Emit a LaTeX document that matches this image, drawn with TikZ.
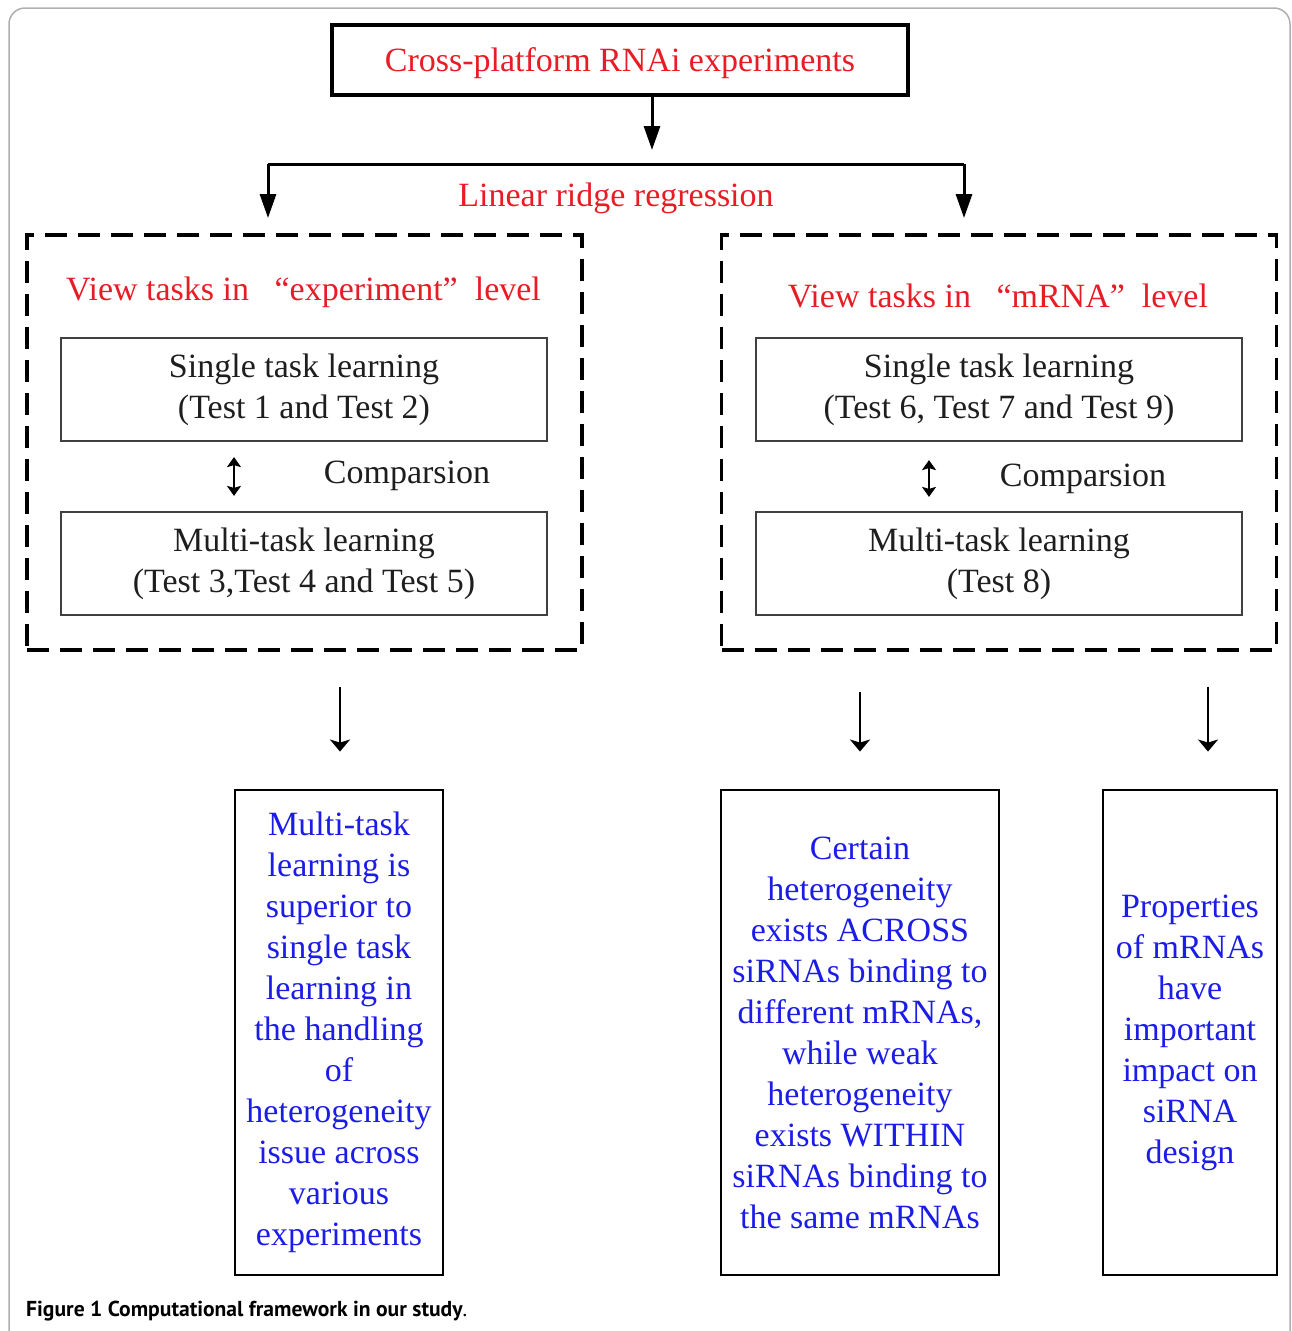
\documentclass[tikz,border=0pt]{standalone}
\usepackage{fontspec}
\setmainfont{Liberation Serif}
\newfontfamily\capfont{PT Sans}
\usetikzlibrary{arrows.meta}
\definecolor{rred}{RGB}{232,28,36}
\definecolor{bblue}{RGB}{28,28,232}
\definecolor{ttxt}{RGB}{30,30,30}
\definecolor{framegray}{RGB}{175,175,175}
\tikzset{
  big/.style={font=\fontsize{34}{41}\selectfont},
  topbox/.style={draw=black, line width=3.1pt, minimum width=576pt, minimum height=70pt, inner sep=0pt, text=rred, big, text height=30pt, text depth=7pt},
  dashbox/.style={draw=black, line width=3.1pt, dash pattern=on 22pt off 11pt, minimum width=555pt, minimum height=415pt, inner sep=0pt},
  innerbox/.style={draw=black!75, line width=2.2pt, minimum width=486pt, minimum height=103pt, inner sep=0pt, text=ttxt, align=center, big},
  resbox/.style={draw=black, line width=2.9pt, minimum height=485pt, inner sep=0pt, text=bblue, align=center, big},
  redlabel/.style={text=rred, big, inner sep=0pt},
  cmplabel/.style={text=ttxt, big, inner sep=0pt},
  toparr/.style={line width=3pt, -{Triangle[width=16pt,length=24pt]}},
  botarr/.style={line width=2.6pt, -{Stealth[width=20pt,length=12pt,inset=3pt]}},
  dblarr/.style={line width=2.4pt, {Stealth[width=14pt,length=10pt,inset=2pt]}-{Stealth[width=14pt,length=10pt,inset=2pt]}},
}
\begin{document}
\begin{tikzpicture}[x=1pt,y=-1pt]
\useasboundingbox (0,0) rectangle (1292,1331);
% outer frame
\draw[framegray, line width=1.5pt, rounded corners=16pt] (9,1360) -- (9,8) -- (1290,8) -- (1290,1360);

\node[topbox] (top) at (620,60) {Cross-platform RNAi experiments};
\coordinate (tip) at (652,150);
\draw[toparr] (top.south -| tip) -- (tip);

\coordinate (hl) at (268,164);
\coordinate (hr) at (964,164);
\coordinate (hlt) at (268,218);
\coordinate (hrt) at (964,218);
\draw[line width=3pt] (hl) -- (hr);
\node[redlabel] (lrr) at (616,198) {Linear ridge regression};

\node[dashbox] (ldash) at (304.5,442.5) {};
\node[dashbox] (rdash) at (999,442.5) {};
\draw[toparr] (hl) -- (hlt);
\draw[toparr] (hr) -- (hrt);

\node[redlabel] (lview) at (303.5,292) {View tasks in\hspace{0.75em}“experiment”\hspace{0.5em}level};
\node[redlabel] (rview) at (998,296) {View tasks in\hspace{0.75em}“mRNA”\hspace{0.5em}level};

\node[innerbox] (lsingle) at (304,389.5) {Single task learning\\(Test 1 and Test 2)};
\node[innerbox] (lmulti) at (304,563.5) {Multi-task learning\\(Test 3,Test 4 and Test 5)};
\node[innerbox] (rsingle) at (999,389.5) {Single task learning\\(Test 6, Test 7 and Test 9)};
\node[innerbox] (rmulti) at (999,563.5) {Multi-task learning\\(Test 8)};

\coordinate (lda) at (234,470);
\coordinate (rda) at (929,470);
\draw[dblarr, shorten <=15pt, shorten >=15pt] (lsingle.south -| lda) -- (lmulti.north -| lda);
\draw[dblarr, shorten <=18pt, shorten >=14pt] (rsingle.south -| rda) -- (rmulti.north -| rda);
\node[cmplabel] (lcmp) at (407,476) {Comparsion};
\node[cmplabel] (rcmp) at (1083,479) {Comparsion};

\node[resbox, minimum width=208pt] (resL) at (339,1032.5) {Multi-task\\learning is\\superior to\\single task\\learning in\\the handling\\of\\heterogeneity\\issue across\\various\\experiments};
\node[resbox, minimum width=278pt] (resM) at (860,1032.5) {Certain\\heterogeneity\\exists ACROSS\\siRNAs binding to\\different mRNAs,\\while weak\\heterogeneity\\exists WITHIN\\siRNAs binding to\\the same mRNAs};
\node[resbox, minimum width=174pt] (resR) at (1190,1032.5) {Properties\\of mRNAs\\have\\important\\impact on\\siRNA\\design};

\coordinate (a1) at (340,700);
\coordinate (a2) at (860,700);
\coordinate (a3) at (1208,700);
\draw[botarr, shorten <=35pt, shorten >=37pt] (ldash.south -| a1) -- (resL.north -| a1);
\draw[botarr, shorten <=40pt, shorten >=37pt] (rdash.south -| a2) -- (resM.north -| a2);
\draw[botarr, shorten <=35pt, shorten >=37pt] (rdash.south -| a3) -- (resR.north -| a3);

\node[anchor=base west, inner sep=0pt, font=\capfont\fontsize{21.6}{26}\selectfont] (cap) at (26,1316) {\textbf{Figure 1 Computational framework in our study}.};
\end{tikzpicture}
\end{document}
